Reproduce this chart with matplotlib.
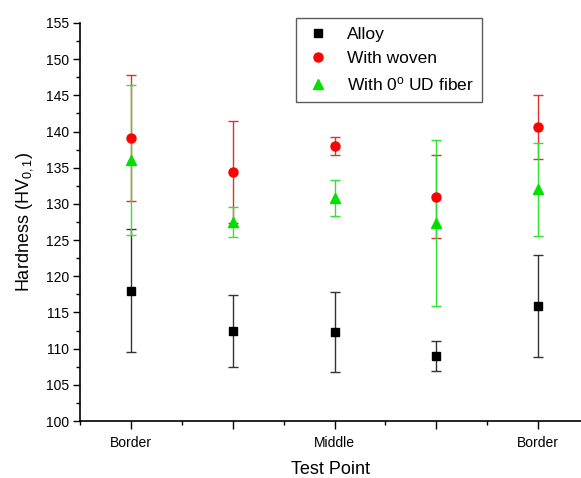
import matplotlib
matplotlib.use("Agg")
import matplotlib.pyplot as plt
from matplotlib.lines import Line2D
from matplotlib.ticker import MultipleLocator
import numpy as np

plt.rcParams['font.family'] = ['Liberation Sans', 'DejaVu Sans']
plt.rcParams['mathtext.fontset'] = 'custom'
plt.rcParams['mathtext.rm'] = 'Liberation Sans'
plt.rcParams['mathtext.it'] = 'Liberation Sans:italic'

# test points along the sample
positions = [1, 2, 3, 4, 5]
point_labels = ["Border", "", "Middle", "", "Border"]

# hardness values and error (HV 0.1)
alloy = [118.0, 112.4, 112.3, 109.0, 115.9]
alloy_err = [8.5, 5.0, 5.5, 2.1, 7.1]
woven = [139.1, 134.4, 138.0, 131.0, 140.6]
woven_err = [8.7, 7.1, 1.3, 5.7, 4.4]
ud = [136.1, 127.5, 130.8, 127.4, 132.0]
ud_err = [10.4, 2.1, 2.5, 11.5, 6.4]

fig = plt.figure(figsize=(5.81, 4.78), dpi=100)
ax = fig.add_axes([0.1377, 0.1192, 0.8623, 0.8327])

# error bars first, markers on top
ax.errorbar(positions, alloy, yerr=alloy_err, fmt='none', ecolor='#333333',
            elinewidth=1.0, capsize=3.5, capthick=1.0, zorder=2)
ax.errorbar(positions, woven, yerr=woven_err, fmt='none', ecolor='#e03030',
            elinewidth=1.0, capsize=3.5, capthick=1.0, zorder=2)
ax.errorbar(positions, ud, yerr=ud_err, fmt='none', ecolor='#33e033',
            elinewidth=1.0, capsize=3.5, capthick=1.0, zorder=3)

ax.plot(positions, alloy, 's', color='black', markersize=5.8, zorder=4)
ax.plot(positions, woven, 'o', color='#ff0000', markersize=6.5, zorder=4)
ax.plot(positions, ud, '^', color='#00e000', markersize=7.5, zorder=5)

ax.set_xlim(0.5, 5.42)
ax.set_ylim(100, 155)

ax.set_xticks(positions)
ax.set_xticklabels(point_labels)
ax.xaxis.set_minor_locator(MultipleLocator(0.5))
ax.yaxis.set_major_locator(MultipleLocator(5))
ax.yaxis.set_minor_locator(MultipleLocator(2.5))

ax.spines['top'].set_visible(False)
ax.spines['right'].set_visible(False)
ax.spines['left'].set_linewidth(1.2)
ax.spines['bottom'].set_linewidth(1.2)

ax.tick_params(axis='both', which='major', direction='out', length=5, width=1,
               labelsize=10)
ax.tick_params(axis='both', which='minor', direction='out', length=3, width=1)
ax.tick_params(axis='x', which='major', length=6, pad=5)
ax.tick_params(axis='y', which='major', pad=3)

ax.set_xlabel("Test Point", fontsize=13, labelpad=8)
ax.set_ylabel("Hardness (HV$_{0,1}$)", fontsize=13, labelpad=8)

handles = [
    Line2D([], [], marker='s', color='black', linestyle='none', markersize=5.8),
    Line2D([], [], marker='o', color='#ff0000', linestyle='none', markersize=6.5),
    Line2D([], [], marker='^', color='#00e000', linestyle='none', markersize=7.5),
]
names = ["Alloy", "With woven", "With 0$^{\\mathrm{o}}$ UD fiber"]
leg = ax.legend(handles, names, loc='upper left', bbox_to_anchor=(0.432, 1.013),
                fontsize=12.5, frameon=True, fancybox=False, edgecolor='#333333',
                handletextpad=0.9, borderpad=0.5, labelspacing=0.52,
                handlelength=1.5, borderaxespad=0)
leg.get_frame().set_linewidth(1.0)

plt.savefig("out.png", dpi=100)
plt.close('all')
